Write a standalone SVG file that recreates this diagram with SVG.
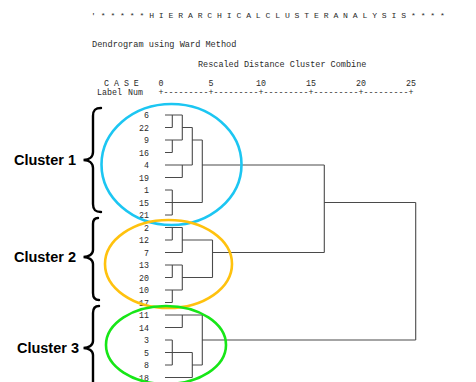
<svg xmlns="http://www.w3.org/2000/svg" width="476" height="382" viewBox="0 0 476 382">
  <style>
    .mono { font-family: "Liberation Mono", "DejaVu Sans Mono", monospace; font-size: 8.3px; fill: #2a2a2a; white-space: pre; }
    .case { text-anchor: end; }
    .lbl { font-family: "Liberation Sans", Arial, sans-serif; font-weight: bold; font-size: 14.5px; fill: #000; text-anchor: end; }
    .brace { fill: none; stroke: #000; stroke-width: 2.4; stroke-linecap: round; }
    .ring { fill: none; stroke-width: 2.6; }
    .tree path { fill: none; stroke: #4a4a4a; stroke-width: 1.1; }
  </style>
  <rect width="476" height="382" fill="#fff"/>

  <!-- Header block -->
  <g id="header" class="mono">
    <text x="91" y="17.5" style="font-size:8.08px">' * * * * * H I E R A R C H I C A L   C L U S T E R   A N A L Y S I S * * * *</text>
    <text x="92" y="47" style="font-size:8.6px">Dendrogram using Ward Method</text>
    <text x="198" y="66.5" style="font-size:8.5px">Rescaled Distance Cluster Combine</text>
    <text x="104" y="86">C A S E</text>
    <text x="161" y="86" text-anchor="middle">0</text>
    <text x="211" y="86" text-anchor="middle">5</text>
    <text x="261" y="86" text-anchor="middle">10</text>
    <text x="311" y="86" text-anchor="middle">15</text>
    <text x="361" y="86" text-anchor="middle">20</text>
    <text x="411" y="86" text-anchor="middle">25</text>
    <text x="97" y="95">Label</text>
    <text x="128" y="95">Num</text>
    <text x="158.5" y="95" textLength="255" lengthAdjust="spacing">+---------+---------+---------+---------+---------+</text>
  </g>

  <!-- Case numbers -->
  <g id="cases" class="mono case">
    <text x="149" y="118">6</text>
    <text x="149" y="130.5">22</text>
    <text x="149" y="143">9</text>
    <text x="149" y="155.5">16</text>
    <text x="149" y="168">4</text>
    <text x="149" y="180.5">19</text>
    <text x="149" y="193">1</text>
    <text x="149" y="205.5">15</text>
    <text x="149" y="218">21</text>
    <text x="149" y="230.5">2</text>
    <text x="149" y="243">12</text>
    <text x="149" y="255.5">7</text>
    <text x="149" y="268">13</text>
    <text x="149" y="280.5">20</text>
    <text x="149" y="293">10</text>
    <text x="149" y="305.5">17</text>
    <text x="149" y="318">11</text>
    <text x="149" y="330.5">14</text>
    <text x="149" y="343">3</text>
    <text x="149" y="355.5">5</text>
    <text x="149" y="368">8</text>
    <text x="149" y="380.5">18</text>
  </g>

  <!-- Dendrogram connectors -->
  <g id="connectors" class="tree">
    <!-- cluster 1 -->
    <path d="M165 115H182.3M165 127.5H172.3M172.3 115V127.5"/>
    <path d="M165 140H182.3M165 152.5H172.3M172.3 140V152.5"/>
    <path d="M182.3 115V140M182.3 127.5H192.3"/>
    <path d="M165 165H192.3M165 177.5H182.3M182.3 165V177.5"/>
    <path d="M192.3 127.5V165M192.3 140H202.3"/>
    <path d="M165 190H172.3M165 202.5H202.3M165 215H172.3M172.3 190V215"/>
    <path d="M202.3 140V202.5M202.3 165H324.3"/>
    <!-- cluster 2 -->
    <path d="M165 227.5H182.3M165 240H172.3M172.3 227.5V240"/>
    <path d="M165 252.5H182.3M182.3 227.5V252.5M182.3 240H212.5"/>
    <path d="M165 265H182.3M165 277.5H172.3M172.3 265V277.5"/>
    <path d="M165 290H182.3M165 302.5H172.3M172.3 290V302.5"/>
    <path d="M182.3 265V290M182.3 277.5H212.5"/>
    <path d="M212.5 240V277.5M212.5 252.5H324.3"/>
    <path d="M324.3 165V252.5M324.3 202.5H415.7"/>
    <!-- cluster 3 -->
    <path d="M165 315H202.3M165 327.5H182.3M182.3 315V327.5"/>
    <path d="M165 340H172.3M165 352.5H192.3M165 365H172.3M172.3 340V365"/>
    <path d="M165 377.5H192.3M192.3 352.5V377.5M192.3 365H202.3"/>
    <path d="M202.3 315V365M202.3 340H415.7"/>
    <path d="M415.7 202.5V340"/>
  </g>

  <!-- Cluster groupings -->
  <g id="cluster1">
    <ellipse class="ring" cx="171.5" cy="164.5" rx="70" ry="60.5" stroke="#1cc6f2"/>
    <path class="brace" d="M101 108C95.5 108 93 110 93 116V152C93 157 89 160 83.5 160C89 160 93 163 93 168V204C93 210 95.5 212 101 212"/>
    <text class="lbl" x="76" y="165">Cluster 1</text>
  </g>
  <g id="cluster2">
    <ellipse class="ring" cx="168.5" cy="264" rx="63.5" ry="44" stroke="#ffc20e"/>
    <path class="brace" d="M98 218C95 218 93 220 93 224V250C93 254 89 257 83.5 257C89 257 93 260 93 264V293C93 298 95 300 99 300"/>
    <text class="lbl" x="76" y="262">Cluster 2</text>
  </g>
  <g id="cluster3">
    <ellipse class="ring" cx="166" cy="345" rx="60" ry="39" stroke="#17e617"/>
    <path class="brace" d="M99 306C95 306 93 308 93 313V341C93 345 89 348 83.5 348C89 348 93 351 93 355V390"/>
    <text class="lbl" x="79" y="353">Cluster 3</text>
  </g>
</svg>
